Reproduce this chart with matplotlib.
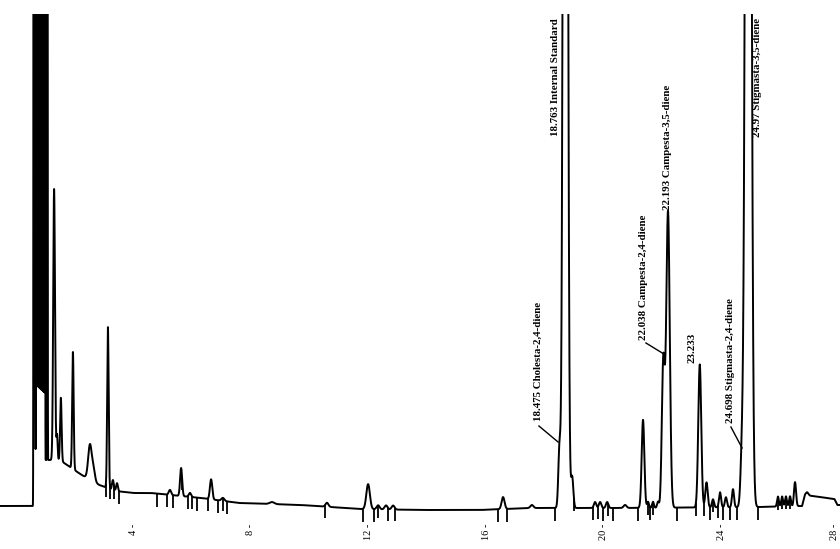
import numpy as np
import matplotlib.pyplot as plt

# GC trace of a sterol-diene fraction, redrawn from the scanned chromatogram

# baseline drift (retention time in min, detector level)
base_rt = [-0.53, 0.60, 0.64, 1.02, 1.12, 1.5, 1.85, 2.25, 2.85, 3.4, 4.0, 4.6,
           6.3, 7.6, 9.7, 11.7, 13.8, 15.8, 17.5, 20.6, 25.3, 26.75, 26.85,
           27.85, 27.95, 28.04]
base_level = [4, 4, 60, 50, 50, 50, 43, 35, 25, 19, 17, 17,
              12, 7, 5, 1, 0, 0, 2, 2, 3, 4, 15,
              11, 5, 5]

# peaks: retention time, height above baseline, width
peak_rt = [0.62, 0.66, 0.70, 0.73, 0.76, 0.79, 0.82, 0.85, 0.88, 0.91, 0.94,
           0.97, 1.00, 1.08,
           1.31, 1.41, 1.54, 1.95, 2.53, 2.65, 3.14, 3.31, 3.45,
           5.25, 5.63, 5.93, 6.65, 7.05, 8.72, 10.59, 11.99, 12.33, 12.60, 12.84,
           16.58, 17.56, 18.50, 18.70, 18.93, 19.71, 19.88, 20.12, 20.73,
           21.34, 21.51, 21.68, 21.85, 22.03, 22.19, 23.27, 23.50, 23.72,
           23.96, 24.16, 24.40, 24.71, 24.92, 25.93, 26.07, 26.20, 26.34,
           26.51, 26.92]
peak_height = [3000, 3000, 3000, 3000, 3000, 3000, 3000, 3000, 3000, 3000, 3000,
               3000, 3000, 3000,
               271, 25, 63, 117, 35, 12, 161, 10, 8,
               5, 28, 4, 20, 3, 2, 4, 25, 4, 4, 4,
               12, 3, 60, 2000, 31, 6, 6, 6, 3,
               88, 6, 6, 6, 145, 296, 143, 25, 8,
               15, 10, 18, 55, 2000, 10, 10, 10, 10,
               24, 3]
peak_width = [0.008] + [0.005] * 12 + [0.007,
              0.03, 0.02, 0.025, 0.025, 0.06, 0.05, 0.025, 0.03, 0.03,
              0.04, 0.035, 0.04, 0.04, 0.05, 0.08, 0.05, 0.06, 0.05, 0.05, 0.05,
              0.05, 0.05, 0.04, 0.06, 0.04, 0.04, 0.04, 0.04, 0.05,
              0.045, 0.03, 0.03, 0.03, 0.05, 0.06, 0.05, 0.04, 0.035,
              0.035, 0.035, 0.035, 0.05, 0.075, 0.03, 0.03, 0.03, 0.03,
              0.035, 0.04]

# integrator event marks (ticks below the trace)
event_rt = [3.07, 3.21, 3.35, 3.52, 4.81, 5.15, 5.35, 5.66, 5.86, 6.00, 6.17,
            6.54, 6.88, 7.05, 7.19, 10.52, 11.82, 12.19, 12.33, 12.67, 12.90,
            16.41, 16.71, 18.35, 18.99, 19.64, 19.81, 19.98, 20.15, 20.32,
            21.17, 21.51, 21.58, 21.68, 22.50, 23.14, 23.41, 23.62, 23.72,
            23.89, 24.06, 24.30, 24.54, 25.25, 25.93, 26.07, 26.20, 26.34]

# peak annotations: text, x, top of text, optional leader line
labels = ['18.763 Internal Standard', '24.97 Stigmasta-3,5-diene',
          '22.193 Campesta-3,5-diene', '22.038 Campesta-2,4-diene',
          '18.475 Cholesta-2,4-diene', '23.233', '24.698 Stigmasta-2,4-diene']
label_x = [18.38, 25.25, 22.16, 21.34, 17.77, 23.00, 24.30]
label_top = [492, 492, 425, 295, 208, 177, 212]
leaders = [None, None, None, ((21.44, 22.05), (167, 156)),
           ((17.80, 18.45), (84, 68)), None, ((24.33, 24.71), (83, 62))]

xticks = [4, 8, 12, 16, 20, 24, 28]

t = np.arange(-0.53, 28.04, 0.001)
sig = np.interp(t, base_rt, base_level)
for rt, h, w in zip(peak_rt, peak_height, peak_width):
    sig += h * np.exp(-0.5 * ((t - rt) / w) ** 2)

fig = plt.figure(figsize=(8.4, 5.49), dpi=100)
ax = fig.add_axes([0, 0.0492, 1, 0.9253])
ax.plot(t, sig, color='black', lw=1.4)

ev_y = np.interp(event_rt, t, sig)
ax.vlines(event_rt, ev_y - 13, ev_y, color='black', lw=1.3)

for txt, x, top, ld in zip(labels, label_x, label_top, leaders):
    ax.text(x, top, txt, rotation=90, ha='center', va='top',
            family='Liberation Serif', fontsize=7.8, fontweight='bold')
    if ld is not None:
        ax.plot(ld[0], ld[1], color='black', lw=1.0)

ax.set_xlim(-0.53, 28.04)
ax.set_ylim(-12, 496)
ax.set_xticks(xticks)
ax.set_xticklabels([f'{v} -' for v in xticks], rotation=90, va='top',
                   family='Liberation Serif', fontsize=7.5)
ax.get_xticklabels()[-1].set_ha('right')
ax.tick_params(axis='x', length=0, pad=1)
ax.set_yticks([])
for s in ax.spines.values():
    s.set_visible(False)

fig.savefig('out.png', dpi=100)
